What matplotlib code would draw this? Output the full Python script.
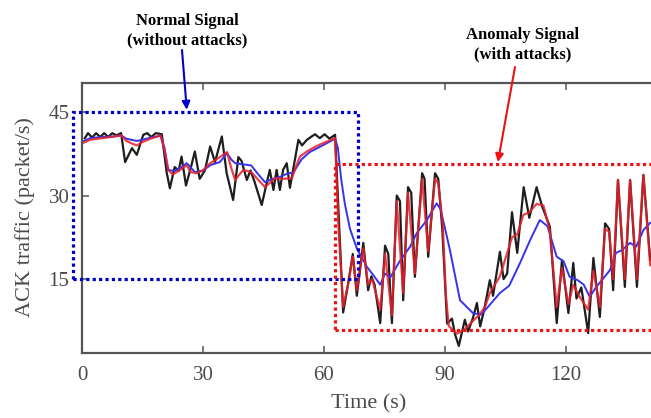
import matplotlib
matplotlib.use("Agg")
import matplotlib.pyplot as plt
from matplotlib.patches import Rectangle

# ---------------- data ----------------
black_t = [0.7, 1.5, 2.5, 3.5, 4.5, 5.5, 6.5, 7.5, 8.5, 9.7, 10.7, 12.4, 13.6, 15.2, 16.2, 17.2, 18.3, 19.8,
           21.0, 21.8, 23.0, 24.0, 24.7, 25.8, 27.0, 28.0, 29.2, 30.5, 31.8, 33.0, 34.7, 35.9, 37.5, 38.8,
           39.6, 40.9, 41.8, 42.8, 44.6, 45.6, 46.6, 47.5, 48.3, 49.1, 49.9, 50.8, 51.6, 53.7, 54.6, 55.8,
           57.8, 59.0, 60.2, 61.4, 62.8, 63.6, 64.8, 66.0, 67.2, 68.2, 69.8, 71.0, 71.8, 72.6, 74.0, 75.2,
           76.0, 76.9, 78.1, 78.9, 79.7, 80.9, 81.7, 82.6, 84.4, 85.0, 85.9, 87.6, 88.4, 89.4, 90.6, 91.8,
           92.6, 93.5, 95.0, 95.8, 97.0, 98.0, 98.8, 99.8, 101.2, 102.0, 103.7, 104.6, 105.5, 106.7, 108.0,
           109.6, 111.0, 112.8, 114.2, 116.1, 117.8, 119.1, 120.7, 121.9, 122.7, 123.9, 125.6, 126.9, 128.5,
           129.8, 130.8, 131.8, 133.0, 134.7, 136.0, 137.7, 139.3, 141.0]
black_v = [40.3, 41.2, 40.4, 41.2, 40.5, 41.2, 40.5, 41.2, 40.8, 41.2, 36.0, 38.5, 37.3, 40.9, 41.2, 40.5, 41.2, 41.0,
           34.2, 31.3, 35.1, 34.5, 37.0, 31.8, 35.0, 37.9, 33.0, 34.5, 38.8, 36.0, 40.6, 34.0, 29.2, 36.9,
           36.2, 32.8, 34.5, 32.5, 28.3, 31.5, 34.6, 31.0, 34.6, 31.0, 34.6, 35.8, 31.4, 40.0, 39.0, 40.0,
           41.0, 40.3, 41.0, 40.2, 40.9, 28.0, 9.0, 14.0, 19.5, 12.0, 21.5, 13.0, 15.5, 14.0, 7.1, 21.0,
           19.5, 7.1, 30.0, 29.0, 11.2, 31.5, 30.5, 15.4, 34.0, 33.0, 19.0, 34.0, 33.0, 24.0, 7.0, 7.9,
           5.0, 3.0, 7.7, 5.6, 8.0, 10.7, 6.5, 9.5, 14.8, 12.0, 19.9, 15.0, 16.0, 27.0, 19.7,
           31.5, 26.0, 31.5, 28.0, 24.4, 7.1, 18.4, 8.9, 17.9, 11.5, 13.5, 5.3, 18.8, 8.2,
           25.0, 24.0, 13.0, 32.8, 13.6, 32.8, 13.6, 33.7, 18.4]

red_t = [0.5, 2, 5, 8, 9.7, 11, 12.5, 13.6, 15, 17, 19.5, 20.5, 21.5, 22.5, 24, 25, 26, 27, 28.5, 30,
         31.8, 34, 36, 37, 38, 40, 42, 43.5, 45.4, 46.5, 47.9, 50, 52.1, 53, 54.1, 56, 58, 59.8, 62.8,
         63.6, 64.8, 66.0, 67.2, 68.2, 69.8, 71.0, 72.0, 74.0, 75.2, 76.9, 78.1, 79.7, 80.9, 82.6, 84.4,
         85.9, 87.6, 88.4, 89.5, 90.3, 91.0, 93.0, 95.0, 97.0, 98.5, 100.0, 101.2, 103.7, 106.7, 108.0,
         109.5, 111.0, 112.8, 114.5, 116.0, 117.8, 119.1, 120.7, 121.9, 123.3, 125.6, 126.9, 128.5, 129.8,
         130.8, 131.8, 133.0, 134.7, 136.0, 137.7, 139.3, 141.0]
red_v = [39.5, 40.0, 40.3, 40.6, 40.8, 39.8, 39.3, 39.0, 39.6, 40.2, 40.8, 38.0, 34.5, 33.8, 34.4, 35.0, 35.4, 34.2, 34.0, 34.5,
         35.8, 36.8, 37.8, 35.0, 32.8, 34.6, 34.2, 33.0, 31.5, 32.2, 33.1, 33.0, 33.1, 35.0, 37.0, 38.0, 38.8, 39.4, 40.3,
         25.0, 10.0, 14.0, 19.0, 13.0, 20.5, 14.0, 15.0, 9.5, 19.5, 8.5, 29.0, 12.5, 30.5, 16.0, 33.0,
         20.0, 33.0, 32.2, 25.0, 12.0, 6.6, 5.2, 6.0, 7.5, 8.5, 10.0, 12.5, 15.5, 22.5, 23.0,
         26.5, 27.0, 28.5, 28.2, 24.0, 10.0, 17.0, 10.5, 14.0, 12.0, 9.5, 16.5, 10.0, 24.0,
         23.5, 15.0, 32.8, 15.0, 32.8, 15.0, 33.7, 17.5]

blue_t = [0.5, 2, 5, 8, 9.7, 11, 13.6, 15, 17, 19.5, 20.5, 21.3, 23, 24.5, 26, 28, 30, 32, 34.2, 36,
          37, 38, 40, 42, 43.5, 45.4, 47, 49, 50.5, 52.5, 54.5, 56.5, 58.4, 60.5, 62.8,
          63.5, 64.3, 65.2, 66.5, 68.2, 70.7, 72.5, 74.0, 75.2, 76.5, 79.0, 81.4, 83.1, 85.5, 88.0,
          89.0, 91.3, 93.8, 97.0, 99.0, 100.5, 103.7, 106.0, 108.7, 111.2, 113.6, 115.5, 117.8, 119.5,
          121.0, 123.0, 124.5, 126.0, 127.5, 129.0, 131.0, 132.5, 134.0, 136.0, 137.5, 139.3, 141.0]
blue_v = [39.8, 40.3, 40.5, 40.6, 40.8, 40.2, 39.8, 40.0, 40.4, 40.7, 38.5, 34.6, 34.4, 35.0, 35.8, 34.2, 34.5, 35.5, 36.0, 37.6,
          36.5, 35.8, 35.6, 35.4, 34.0, 32.4, 32.9, 33.3, 33.8, 34.2, 36.5, 37.8, 38.5, 39.3, 40.2,
          38.5, 33.0, 28.6, 24.0, 20.5, 17.2, 15.5, 14.0, 16.0, 15.3, 18.4, 20.8, 23.3, 25.5, 28.6,
          27.5, 20.2, 11.2, 8.9, 8.6, 9.8, 12.5, 13.8, 17.9, 22.0, 25.6, 24.5, 19.0, 18.2,
          15.4, 14.8, 14.0, 11.8, 13.5, 14.8, 16.6, 19.7, 20.2, 21.5, 20.8, 23.8, 25.1]

x_ticks = [0, 30, 60, 90, 120]
y_ticks = [15, 30, 45]
x_label = "Time (s)"
y_label = "ACK traffic (packet/s)"
normal_box = (-2.2, 15, 68.5, 45)      # t0, v0, t1, v1
anomaly_box = (62.8, 5.9, 145, 35.7)
normal_text = "Normal Signal\n(without attacks)"
anomaly_text = "Anomaly Signal\n(with attacks)"

# ---------------- figure ----------------
W, H = 651, 418
fig = plt.figure(figsize=(W / 100, H / 100), dpi=100)
ax = fig.add_axes([82 / W, (H - 353) / H, (W - 82) / W, (353 - 83) / H])

serif = ["Liberation Serif", "DejaVu Serif"]
grey = "#4a4a4a"

ax.plot(black_t, black_v, color="#1e1e1e", lw=1.6, zorder=3)
ax.plot(blue_t, blue_v, color="#3434ee", lw=1.4, zorder=4)
ax.plot(red_t, red_v, color="#e8202a", lw=1.6, alpha=0.85, zorder=5)

ax.set_xlim(0, (W - 82) / 4.03)
ax.set_ylim(1.73, 50.2)
ax.set_xticks(x_ticks)
ax.set_yticks(y_ticks)
ax.tick_params(axis="both", direction="in", length=5, width=1.1, color="#555555",
               labelsize=15, labelcolor=grey, pad=9)
ax.tick_params(axis="x", top=True)
for lab in ax.get_xticklabels() + ax.get_yticklabels():
    lab.set_family(serif)
for side in ["left", "bottom", "top"]:
    ax.spines[side].set_color("#555555")
    ax.spines[side].set_linewidth(1.6)
ax.spines["right"].set_visible(False)

ax.set_xlabel(x_label, fontsize=16, family=serif, color=grey)
ax.set_ylabel(y_label, fontsize=16, family=serif, color=grey)
ax.xaxis.label.set_verticalalignment("center")
ax.yaxis.label.set_verticalalignment("center")
ax.xaxis.set_label_coords((369 - 82) / (W - 82), -(404 - 353) / (353 - 83))
ax.yaxis.set_label_coords(-(82 - 25) / (W - 82), (353 - 217) / (353 - 83))

# dotted boxes
t0, v0, t1, v1 = normal_box
ax.add_patch(Rectangle((t0, v0), t1 - t0, v1 - v0, fill=False, edgecolor="#0000cc",
                       lw=2.3, linestyle=(0, (1, 1)), clip_on=False, zorder=6))
t0, v0, t1, v1 = anomaly_box
ax.add_patch(Rectangle((t0, v0), t1 - t0, v1 - v0, fill=False, edgecolor="#ee1111",
                       lw=2.3, linestyle=(0, (1, 1)), clip_on=False, zorder=6))

# annotations
fig.text(187.5 / W, 1 - 31 / H, normal_text, ha="center", va="center", fontsize=12,
         fontweight="bold", family=serif, linespacing=1.3, color="black")
fig.text(523 / W, 1 - 45 / H, anomaly_text, ha="center", va="center", fontsize=12,
         fontweight="bold", family=serif, linespacing=1.3, color="black")
ax.annotate("", xy=(26.0, 45.4), xycoords="data",
            xytext=(182 / W, 1 - 50 / H), textcoords="figure fraction",
            arrowprops=dict(arrowstyle="-|>", color="#0000cc", lw=1.5, mutation_scale=12,
                            shrinkA=0, shrinkB=0), annotation_clip=False)
ax.annotate("", xy=(103.2, 36.0), xycoords="data",
            xytext=(515 / W, 1 - 67 / H), textcoords="figure fraction",
            arrowprops=dict(arrowstyle="-|>", color="#ee1111", lw=1.5, mutation_scale=12,
                            shrinkA=0, shrinkB=0), annotation_clip=False)

fig.savefig("out.png", dpi=100)
